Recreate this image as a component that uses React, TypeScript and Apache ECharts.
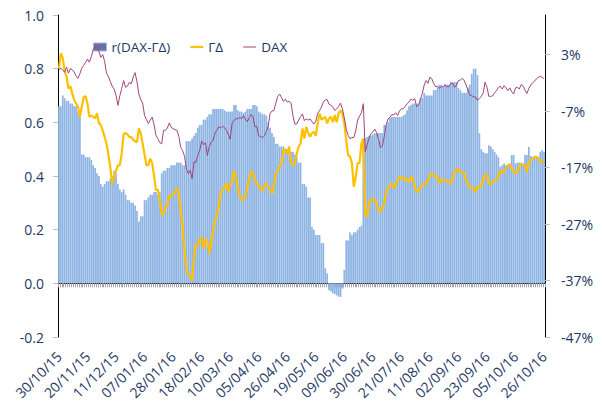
import React, { useEffect, useRef } from 'react';
import * as echarts from 'echarts';

const tickLabels = [
  '30/10/15', '20/11/15', '11/12/15', '07/01/16', '28/01/16', '18/02/16',
  '10/03/16', '05/04/16', '26/04/16', '19/05/16', '09/06/16', '30/06/16',
  '21/07/16', '11/08/16', '02/09/16', '23/09/16', '05/10/16', '26/10/16',
];
const labelStep = 15;

const corr = [
  0.66, 0.66, 0.70, 0.69, 0.68, 0.68, 0.67, 0.67, 0.66, 0.66, 0.64, 0.63,
  0.48, 0.48, 0.47, 0.47, 0.47, 0.46, 0.44, 0.43, 0.41, 0.40, 0.37, 0.36,
  0.37, 0.38, 0.38, 0.39, 0.40, 0.42, 0.41, 0.37, 0.35, 0.34, 0.35, 0.33,
  0.31, 0.31, 0.30, 0.30, 0.29, 0.27, 0.23, 0.25, 0.25, 0.31, 0.31, 0.32,
  0.33, 0.33, 0.34, 0.34, 0.33, 0.34, 0.41, 0.42, 0.42, 0.43, 0.43, 0.44,
  0.44, 0.44, 0.45, 0.45, 0.45, 0.44, 0.44, 0.53, 0.53, 0.53, 0.54, 0.55,
  0.56, 0.58, 0.59, 0.59, 0.61, 0.61, 0.62, 0.63, 0.63, 0.65, 0.65, 0.65,
  0.65, 0.65, 0.65, 0.645, 0.64, 0.64, 0.64, 0.64, 0.665, 0.665, 0.645, 0.64,
  0.64, 0.635, 0.64, 0.65, 0.65, 0.65, 0.665, 0.665, 0.66, 0.64, 0.636, 0.63,
  0.63, 0.625, 0.60, 0.58, 0.56, 0.545, 0.52, 0.52, 0.51, 0.51, 0.51, 0.50,
  0.50, 0.50, 0.49, 0.49, 0.48, 0.47, 0.45, 0.45, 0.37, 0.37, 0.36, 0.32,
  0.32, 0.21, 0.20, 0.18, 0.18, 0.18, 0.15, 0.15, 0.056, 0.037, -0.026, -0.03,
  -0.037, -0.04, -0.045, -0.05, -0.05, -0.02, 0.05, 0.16, 0.16, 0.19, 0.18, 0.19,
  0.19, 0.20, 0.21, 0.215, 0.52, 0.54, 0.545, 0.55, 0.55, 0.555, 0.56, 0.56,
  0.56, 0.56, 0.56, 0.59, 0.59, 0.60, 0.616, 0.62, 0.62, 0.62, 0.62, 0.62,
  0.62, 0.625, 0.63, 0.645, 0.66, 0.665, 0.67, 0.67, 0.67, 0.67, 0.69, 0.69,
  0.71, 0.70, 0.70, 0.70, 0.70, 0.72, 0.72, 0.73, 0.74, 0.74, 0.73, 0.74,
  0.74, 0.74, 0.75, 0.75, 0.75, 0.75, 0.728, 0.72, 0.71, 0.71, 0.71, 0.73,
  0.74, 0.78, 0.80, 0.80, 0.776, 0.56, 0.50, 0.49, 0.485, 0.485, 0.515, 0.51,
  0.50, 0.49, 0.48, 0.47, 0.434, 0.44, 0.447, 0.44, 0.44, 0.44, 0.478, 0.478,
  0.447, 0.45, 0.45, 0.45, 0.447, 0.478, 0.478, 0.508, 0.475, 0.47, 0.47, 0.47,
  0.47, 0.49, 0.496, 0.49,
];

const gammaDelta = [
  0.80, 0.857, 0.84, 0.79, 0.77, 0.726, 0.735, 0.708, 0.683, 0.67, 0.658, 0.62,
  0.658, 0.695, 0.697, 0.67, 0.62, 0.625, 0.62, 0.615, 0.634, 0.597, 0.59, 0.57,
  0.546, 0.52, 0.48, 0.43, 0.372, 0.40, 0.42, 0.44, 0.44, 0.484, 0.556, 0.56,
  0.555, 0.546, 0.545, 0.535, 0.53, 0.525, 0.577, 0.56, 0.52, 0.48, 0.44, 0.44,
  0.465, 0.448, 0.40, 0.347, 0.35, 0.31, 0.26, 0.255, 0.285, 0.29, 0.328, 0.325,
  0.33, 0.34, 0.355, 0.33, 0.27, 0.21, 0.12, 0.05, 0.035, 0.025, 0.01, 0.10,
  0.148, 0.14, 0.16, 0.173, 0.13, 0.16, 0.165, 0.11, 0.148, 0.198, 0.235, 0.247,
  0.29, 0.335, 0.347, 0.36, 0.372, 0.34, 0.372, 0.377, 0.42, 0.397, 0.36, 0.328,
  0.31, 0.315, 0.322, 0.355, 0.39, 0.418, 0.41, 0.384, 0.37, 0.365, 0.347, 0.347,
  0.365, 0.372, 0.36, 0.347, 0.335, 0.36, 0.41, 0.42, 0.434, 0.447, 0.496, 0.5,
  0.484, 0.51, 0.447, 0.44, 0.447, 0.484, 0.51, 0.521, 0.577, 0.54, 0.583, 0.56,
  0.546, 0.56, 0.565, 0.55, 0.596, 0.633, 0.61, 0.615, 0.62, 0.596, 0.615, 0.62,
  0.6, 0.627, 0.6, 0.633, 0.645, 0.633, 0.596, 0.534, 0.478, 0.472, 0.448, 0.36,
  0.396, 0.448, 0.448, 0.521, 0.54, 0.26, 0.247, 0.303, 0.31, 0.315, 0.31, 0.30,
  0.272, 0.266, 0.28, 0.297, 0.34, 0.355, 0.366, 0.372, 0.355, 0.366, 0.384, 0.397,
  0.39, 0.397, 0.384, 0.39, 0.377, 0.397, 0.39, 0.36, 0.34, 0.347, 0.355, 0.365,
  0.372, 0.37, 0.384, 0.403, 0.41, 0.40, 0.397, 0.40, 0.372, 0.384, 0.387, 0.384,
  0.38, 0.377, 0.372, 0.39, 0.415, 0.428, 0.42, 0.418, 0.415, 0.41, 0.384, 0.372,
  0.357, 0.356, 0.355, 0.34, 0.36, 0.36, 0.362, 0.39, 0.403, 0.405, 0.372, 0.37,
  0.377, 0.384, 0.385, 0.40, 0.42, 0.41, 0.42, 0.428, 0.44, 0.444, 0.43, 0.415,
  0.41, 0.413, 0.436, 0.444, 0.442, 0.44, 0.415, 0.45, 0.46, 0.465, 0.471, 0.471,
  0.468, 0.455, 0.452, 0.45,
];

const daxPct = [
  0.3, 0.6, 0.2, -0.1, 0.75, -0.3, 0.5, 0.3, -0.1, -0.8, -1.2, -0.4,
  0.6, 1.1, 1.6, 2.2, 1.65, 2.6, 3.9, 4.4, 4.3, 3.6, 2.5, 3.0,
  1.8, -0.3, -0.9, -1.8, -2.6, -3.1, -4.2, -6.0, -4.3, -3.0, -1.6, -2.8,
  -2.6, -1.9, -2.2, -1.0, -0.2, -1.8, -4.0, -5.0, -5.6, -7.8, -8.5, -9.2,
  -8.6, -8.1, -9.4, -11.3, -11.9, -12.6, -12.8, -10.4, -10.4, -10.0, -9.1, -9.9,
  -10.1, -10.3, -10.4, -11.5, -13.4, -14.0, -15.0, -17.3, -18.1, -17.5, -19.0, -16.0,
  -16.1, -14.8, -14.0, -12.3, -13.0, -12.6, -14.9, -13.3, -12.5, -12.2, -10.9, -10.4,
  -9.8, -10.0, -9.7, -9.9, -10.4, -11.1, -12.0, -9.2, -8.7, -8.3, -8.4, -8.1,
  -8.4, -7.8, -8.4, -8.9, -8.2, -7.6, -8.0, -9.8, -9.7, -11.4, -11.5, -11.7,
  -11.4, -10.6, -9.7, -7.4, -7.0, -6.9, -5.6, -4.4, -4.0, -4.6, -5.3, -4.9,
  -5.4, -5.3, -5.6, -7.8, -9.3, -9.3, -8.6, -8.0, -7.5, -8.7, -8.4, -8.6,
  -8.4, -8.9, -9.3, -8.8, -7.4, -6.9, -6.3, -5.4, -5.0, -5.0, -5.8, -6.0,
  -6.3, -6.9, -6.6, -6.2, -5.6, -6.6, -8.2, -10.2, -11.3, -11.9, -11.7, -11.7,
  -10.5, -8.6, -7.9, -7.3, -5.7, -14.2, -13.0, -11.8, -11.0, -10.7, -10.2, -10.8,
  -12.0, -13.5, -13.2, -11.5, -9.4, -8.4, -8.1, -7.6, -7.7, -7.3, -7.8, -7.0,
  -6.6, -6.6, -6.2, -5.7, -5.4, -4.9, -5.1, -4.8, -6.2, -6.0, -5.0, -3.9,
  -2.4, -1.6, -2.1, -1.0, -1.3, -2.1, -2.7, -2.6, -3.0, -2.6, -2.8, -2.3,
  -2.7, -2.7, -2.1, -2.1, -2.8, -2.4, -1.6, -1.5, -1.2, -1.6, -2.4, -3.3,
  -4.2, -4.3, -4.5, -4.5, -5.1, -4.8, -4.4, -3.8, -1.9, -2.8, -4.4, -4.4,
  -4.3, -3.8, -3.4, -2.8, -2.6, -3.1, -2.5, -2.9, -3.4, -2.9, -3.6, -4.0,
  -2.9, -2.8, -3.1, -2.3, -2.6, -3.3, -3.9, -3.0, -2.4, -2.0, -1.7, -1.3,
  -1.0, -0.9, -1.0, -1.3,
];

const leftTicks = [-0.2, 0.0, 0.2, 0.4, 0.6, 0.8, 1.0];
const rightTicks = [-47, -37, -27, -17, -7, 3];

const seriesNames = ['r(DAX-ΓΔ)', 'ΓΔ', 'DAX'];

const categories = corr.map((_, i) =>
  i % labelStep === 0 && tickLabels[i / labelStep] ? tickLabels[i / labelStep] : `#${i}`
);

const NAVY = '#1F3864';
const FONT = '"Open Sans", "Liberation Sans", sans-serif';
const BAR = '#8EB4E3';
const GOLD = '#FFC000';
const MAROON = '#A0457A';

export default function App() {
  const ref = useRef<HTMLDivElement>(null);

  useEffect(() => {
    if (!ref.current) return;
    const chart = echarts.init(ref.current, null, { renderer: 'svg' });
    chart.setOption({
      animation: false,
      backgroundColor: '#ffffff',
      textStyle: { fontFamily: FONT },
      legend: {
        left: 88,
        top: 35,
        itemWidth: 13,
        itemHeight: 8,
        itemGap: 20,
        itemTextGap: 2,
        textStyle: { color: NAVY, fontSize: 13.5, fontFamily: FONT },
        data: [
          { name: seriesNames[0], icon: 'rect', itemStyle: { color: '#6A6FA6', borderColor: '#9CBBE6', borderWidth: 1 } },
          { name: seriesNames[1], icon: 'path://M0,0 L13,0 L13,2.2 L0,2.2 Z', itemStyle: { color: GOLD, borderWidth: 0 } },
          { name: seriesNames[2], icon: 'path://M0,0 L26,0 L26,2 L0,2 Z', itemStyle: { color: MAROON, borderWidth: 0 } },
        ],
      },
      grid: { left: 58, right: 57, top: 15, bottom: 75, containLabel: false, outerBoundsMode: 'none' },
      xAxis: {
        type: 'category',
        data: categories,
        boundaryGap: true,
        axisLine: { show: true, onZero: true, onZeroAxisIndex: 0, lineStyle: { color: '#000', width: 1 } },
        axisTick: { show: true, interval: 0, length: 4, lineStyle: { color: '#A6A6A6', width: 1 } },
        axisLabel: {
          interval: labelStep - 1,
          rotate: 45,
          margin: 17,
          color: NAVY,
          fontSize: 14,
          fontFamily: FONT,
        },
        splitLine: { show: false },
      },
      yAxis: [
        {
          type: 'value',
          min: -0.2,
          max: 1.0,
          interval: 0.2,
          position: 'left',
          axisLine: { show: true, lineStyle: { color: '#000', width: 1 } },
          axisTick: { show: true, length: 5, lineStyle: { color: '#BFBFBF', width: 1 } },
          axisLabel: {
            margin: 14,
            color: NAVY,
            fontSize: 14,
            fontFamily: FONT,
            formatter: (v: number) => (leftTicks.some((t) => Math.abs(t - v) < 1e-6) ? v.toFixed(1) : ''),
          },
          splitLine: { show: false },
        },
        {
          type: 'value',
          min: -47,
          max: 10,
          position: 'right',
          axisLine: { show: true, lineStyle: { color: '#000', width: 1 } },
          axisTick: { show: true, length: 5, customValues: rightTicks, lineStyle: { color: '#BFBFBF', width: 1 } },
          axisLabel: {
            customValues: rightTicks,
            margin: 16,
            color: NAVY,
            fontSize: 14,
            fontFamily: FONT,
            formatter: (v: number) => `${Math.round(v)}%`,
          },
          splitLine: { show: false },
        },
      ],
      series: [
        {
          name: seriesNames[0],
          type: 'bar',
          yAxisIndex: 0,
          data: corr,
          barCategoryGap: '10%',
          itemStyle: { color: BAR },
          z: 1,
        },
        {
          name: seriesNames[1],
          type: 'line',
          yAxisIndex: 0,
          data: gammaDelta,
          symbol: 'none',
          lineStyle: { color: GOLD, width: 2.2 },
          itemStyle: { color: GOLD },
          z: 3,
        },
        {
          name: seriesNames[2],
          type: 'line',
          yAxisIndex: 1,
          data: daxPct,
          symbol: 'none',
          lineStyle: { color: MAROON, width: 1 },
          itemStyle: { color: MAROON },
          z: 4,
        },
      ],
    });
    return () => chart.dispose();
  }, []);

  return (
    <div
      ref={ref}
      style={{ position: 'absolute', left: 0, top: 0, width: 602, height: 412, background: '#fff' }}
    />
  );
}
